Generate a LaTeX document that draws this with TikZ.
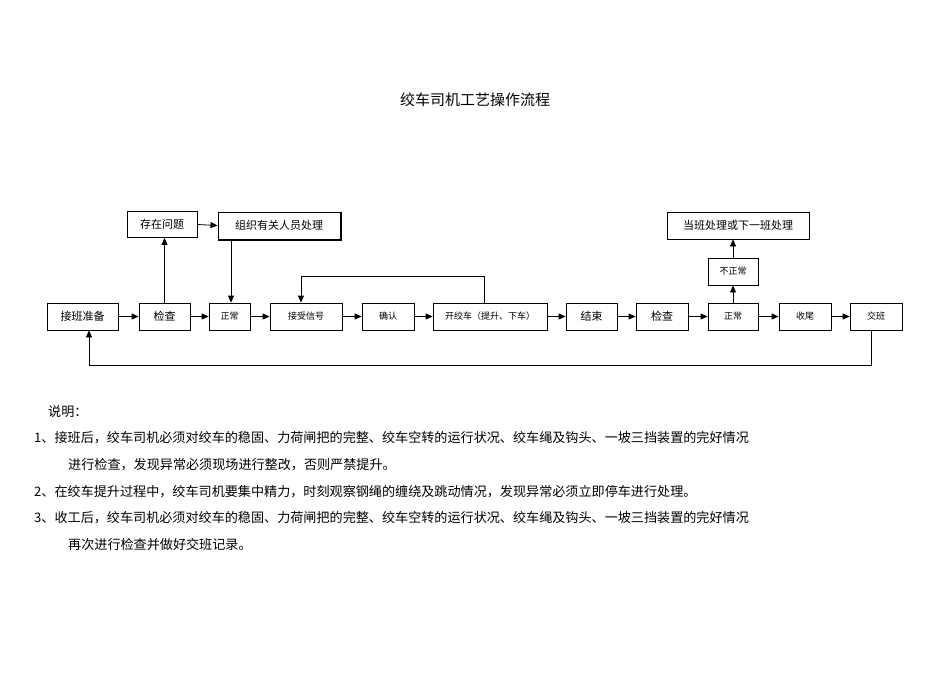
\documentclass[tikz,border=0pt]{standalone}
\usepackage{fontspec}
\setmainfont{Noto Sans CJK SC}
\usetikzlibrary{arrows.meta}
\begin{document}
\begin{tikzpicture}[x=1pt,y=-1pt,
  bx/.style={draw,line width=0.8pt,inner sep=0pt},
  big/.style={font=\fontsize{11}{13}\selectfont},
  sml/.style={font=\fontsize{9}{11}\selectfont},
  ar/.style={line width=0.8pt,-{Triangle[length=7pt,width=6pt]}},
  txt/.style={anchor=west,inner sep=0pt,font=\fontsize{13.1}{15}\selectfont}]
\useasboundingbox (0,0) rectangle (950,672);
% main row
\node[bx,big,minimum width=71,minimum height=27] (a) at (82.5,316.5) {接班准备};
\node[bx,big,minimum width=51,minimum height=27] (b) at (164.5,316.5) {检查};
\node[bx,sml,minimum width=41,minimum height=27] (c) at (229.5,316.5) {正常};
\node[bx,sml,minimum width=72,minimum height=27] (d) at (306,316.5) {接受信号};
\node[bx,sml,minimum width=52,minimum height=27] (e) at (388,316.5) {确认};
\node[bx,sml,minimum width=114,minimum height=27] (f) at (490,316.5) {开绞车（提升、下车）};
\node[bx,big,minimum width=51,minimum height=27] (g) at (591.5,316.5) {结束};
\node[bx,big,minimum width=52,minimum height=27] (h) at (662,316.5) {检查};
\node[bx,sml,minimum width=50,minimum height=27] (i) at (733,316.5) {正常};
\node[bx,sml,minimum width=52,minimum height=27] (j) at (805,316.5) {收尾};
\node[bx,sml,minimum width=52,minimum height=27] (k) at (876,316.5) {交班};
% upper boxes
\node[bx,big,minimum width=70,minimum height=26] (p) at (162,224.5) {存在问题};
\node[bx,big,line width=1pt,minimum width=122,minimum height=27] (q) at (279,225.5) {组织有关人员处理};
\draw[line width=1.2pt] ([xshift=0.8pt]q.north east) -- ([xshift=0.8pt,yshift=-0.8pt]q.south east) -- ([yshift=-0.8pt]q.south west);
\node[bx,sml,minimum width=50,minimum height=27] (r) at (733,271.5) {不正常};
\node[bx,big,minimum width=142,minimum height=27] (s) at (738,225.5) {当班处理或下一班处理};
% arrows
\foreach \u/\v in {a/b,b/c,c/d,d/e,e/f,f/g,g/h,h/i,i/j,j/k}
  \draw[ar] (\u.east) -- (\v.west);
\draw[ar] (b.north) -- (b.north |- p.south);
\draw[ar] (p.east) -- (q.west);
\coordinate (qs) at (231,0);
\draw[ar] (q.south -| qs) -- (c.north -| qs);
\draw[ar] (i.north) -- (r.south);
\draw[ar] (r.north) -- (r.north |- s.south);
\coordinate (f1) at (484,276);
\coordinate (d1) at (301,276);
\draw[ar] (f.north -| f1) -- (f1) -- (d1) -- (d.north -| d1);
\coordinate (k1) at (871,365);
\coordinate (a1) at (89,365);
\draw[ar] (k.south -| k1) -- (k1) -- (a1) -- (a.south -| a1);
% title and notes
\node[font=\fontsize{15}{17}\selectfont] (t) at (475,100) {绞车司机工艺操作流程};
\node[txt] (n0) at (48,412) {说明：};
\node[txt] (n1) at (34,438) {1、接班后，绞车司机必须对绞车的稳固、力荷闸把的完整、绞车空转的运行状况、绞车绳及钩头、一坡三挡装置的完好情况};
\node[txt] (n2) at (68,465) {进行检查，发现异常必须现场进行整改，否则严禁提升。};
\node[txt] (n3) at (34,492) {2、在绞车提升过程中，绞车司机要集中精力，时刻观察钢绳的缠绕及跳动情况，发现异常必须立即停车进行处理。};
\node[txt] (n4) at (34,518) {3、收工后，绞车司机必须对绞车的稳固、力荷闸把的完整、绞车空转的运行状况、绞车绳及钩头、一坡三挡装置的完好情况};
\node[txt] (n5) at (68,545) {再次进行检查并做好交班记录。};
\end{tikzpicture}
\end{document}
